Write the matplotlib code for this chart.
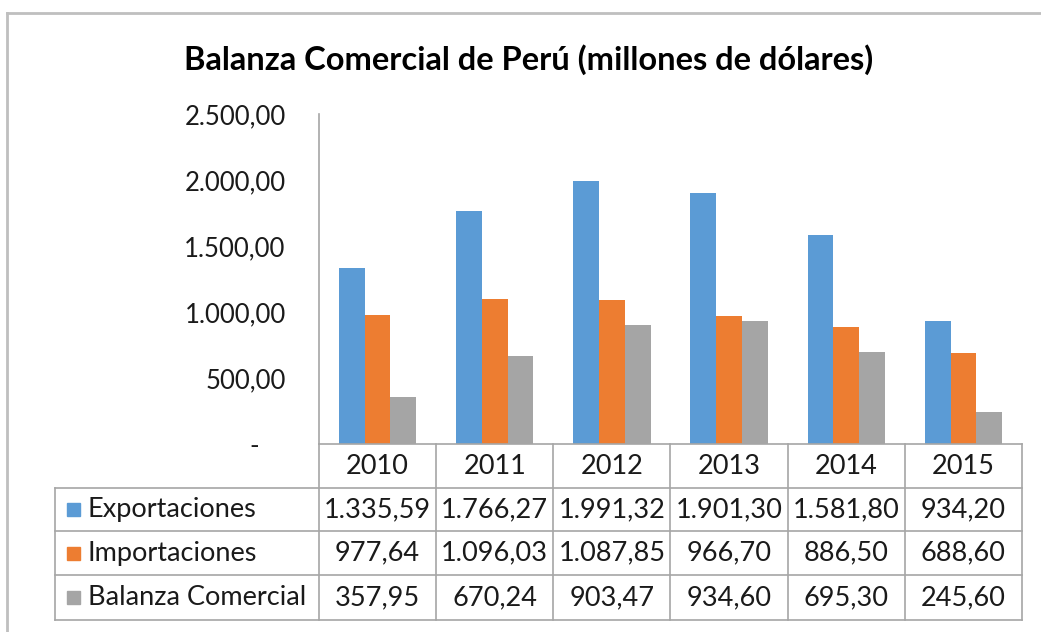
import numpy as np
import matplotlib
matplotlib.use("Agg")
import matplotlib.pyplot as plt
from matplotlib.transforms import blended_transform_factory

plt.rcParams['font.family'] = ['Lato', 'DejaVu Sans']

years = ['2010', '2011', '2012', '2013', '2014', '2015']
series_names = ['Exportaciones', 'Importaciones', 'Balanza Comercial']
exportaciones = [1335.59, 1766.27, 1991.32, 1901.30, 1581.80, 934.20]
importaciones = [977.64, 1096.03, 1087.85, 966.70, 886.50, 688.60]
balanza = [357.95, 670.24, 903.47, 934.60, 695.30, 245.60]
colors = ['#5B9BD5', '#ED7D31', '#A5A5A5']
y_ticks = [0, 500, 1000, 1500, 2000, 2500]


def fmt(v):
    # spanish style: 1.335,59 ; zero shown as "-" (accounting style, padded)
    if v == 0:
        return '-    '
    s = '{:,.2f}'.format(v)
    return s.replace(',', 'X').replace('.', ',').replace('X', '.')


W, H = 1041, 632
fig = plt.figure(figsize=(W / 100, H / 100), dpi=100)


def fx(px):
    return px / W


def fy(py):
    return 1 - py / H


ax = fig.add_axes([fx(319), fy(444), fx(1022 - 319), (444 - 114) / H])

x = np.arange(len(years))
bw = 0.22
all_series = [exportaciones, importaciones, balanza]
for i, vals in enumerate(all_series):
    ax.bar(x + (i - 1) * bw, vals, width=bw, color=colors[i], zorder=2)

ax.set_xlim(-0.5, len(years) - 0.5)
ax.set_ylim(0, 2500)
ax.set_yticks(y_ticks)
ax.set_yticklabels([fmt(v) for v in y_ticks], fontsize=18.5, color='#1a1a1a')
ax.tick_params(axis='y', length=0, pad=24)
ax.set_xticks([])
for sp in ['top', 'right', 'bottom']:
    ax.spines[sp].set_visible(False)
ax.spines['left'].set_color('#A6A6A6')
ax.spines['left'].set_linewidth(1.2)

# title
fig.text(fx(529), fy(60), 'Balanza Comercial de Perú (millones de dólares)',
         ha='center', va='center', fontsize=23.5, fontweight='bold', color='black')

# outer frame (top + left)
lc = '#BFBFBF'
fig.add_artist(plt.Line2D([fx(7), 1], [fy(13), fy(13)], color=lc, lw=2))
fig.add_artist(plt.Line2D([fx(7), fx(7)], [fy(13), 0], color=lc, lw=2))

# data table
gc = '#A6A6A6'
row_y = [444, 488, 531, 575, 620]
tr = blended_transform_factory(ax.transData, fig.transFigure)
# horizontal lines
fig.add_artist(plt.Line2D([fx(319), fx(1022)], [fy(444), fy(444)], color=gc, lw=1.2))
for ry in row_y[1:]:
    fig.add_artist(plt.Line2D([fx(55), fx(1022)], [fy(ry), fy(ry)], color=gc, lw=1.2))
# vertical lines
for b in np.arange(len(years) + 1) - 0.5:
    fig.add_artist(plt.Line2D([b, b], [fy(444), fy(620)], color=gc, lw=1.2, transform=tr))
fig.add_artist(plt.Line2D([fx(55), fx(55)], [fy(488), fy(620)], color=gc, lw=1.2))

fs = 19.5
# header years
for i, yr in enumerate(years):
    fig.text(i, fy(466), yr, transform=tr, ha='center', va='center', fontsize=fs, color='#1a1a1a')

# rows
for r, (name, vals) in enumerate(zip(series_names, all_series)):
    cy = fy((row_y[r + 1] + row_y[r + 2]) / 2)
    fig.add_artist(plt.Rectangle((fx(67), cy - 6.5 / H), 13 / W, 13 / H,
                                 color=colors[r], transform=fig.transFigure))
    fig.text(fx(88), cy, name, ha='left', va='center', fontsize=fs, color='#1a1a1a')
    for i, v in enumerate(vals):
        fig.text(i, cy, fmt(v), transform=tr, ha='center', va='center',
                 fontsize=fs, color='#1a1a1a')

fig.savefig('out.png', dpi=100)
